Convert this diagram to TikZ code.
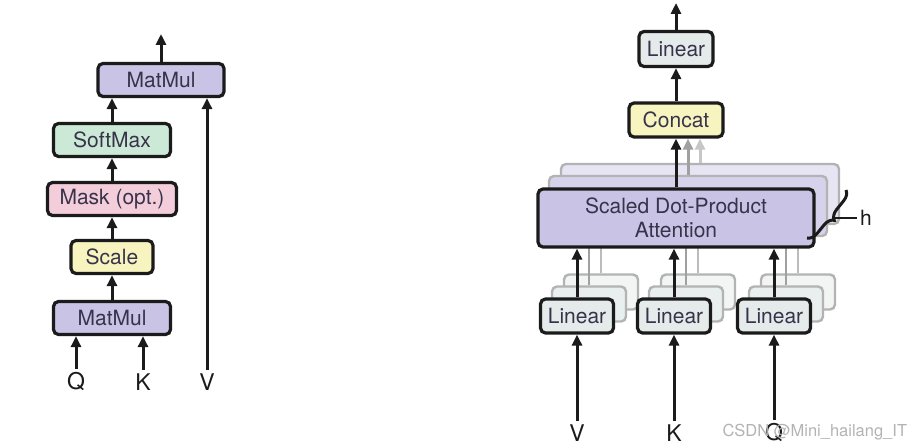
\documentclass[tikz,border=0pt]{standalone}
\usepackage{fontspec}
\setmainfont{TeX Gyre Heros}
\usepackage{tikz}
\usetikzlibrary{positioning,arrows.meta,decorations.pathreplacing}
\definecolor{cMat}{HTML}{C9C3E5}
\definecolor{cSoft}{HTML}{CBE9D6}
\definecolor{cMask}{HTML}{F4CDDB}
\definecolor{cScale}{HTML}{F8F4C0}
\definecolor{cLin}{HTML}{E4EBEA}
\definecolor{cInk}{HTML}{1B1B1B}
\definecolor{cText}{HTML}{37334A}
\definecolor{cGrey}{HTML}{A0A0A0}
\tikzset{
  blk/.style={draw=cInk, line width=3.2pt, rounded corners=5pt, align=center,
              inner sep=0pt, minimum height=33pt, text=cText,
              font=\fontsize{21}{24}\selectfont},
  blkM/.style={blk, fill=cMat},
  blkS/.style={blk, fill=cSoft},
  blkK/.style={blk, fill=cMask},
  blkC/.style={blk, fill=cScale},
  blkL/.style={blk, fill=cLin},
  ghost/.style={blk, draw=cGrey!80, line width=2.4pt, fill=#1},
  ar/.style={-{Triangle[length=11pt,width=10pt]}, cInk, line width=3pt},
  arg/.style={ar, cGrey},
  lbl/.style={font=\fontsize{23}{26}\selectfont, text=cInk}
}
\begin{document}
\begin{tikzpicture}[x=1pt, y=-1pt]
\useasboundingbox (0,0) rectangle (912,446);
% --- scaled dot-product attention
\node[blkM, minimum width=126pt] (mmB) at (161,80) {MatMul};
\node[blkS, minimum width=117pt] (soft) at (112,140) {SoftMax};
\node[blkK, minimum width=129pt] (mask) at (112,199) {Mask (opt.)};
\node[blkC, minimum width=82pt] (scale) at (112,257) {Scale};
\node[blkM, minimum width=117pt] (mmA) at (112,318) {MatMul};
\node[lbl] (q) at (76,382) {Q};
\node[lbl] (k) at (143,382) {K};
\node[lbl] (v) at (207,382) {V};
\coordinate (outL) at (161,34);
\foreach \a/\b in {mmA/scale,scale/mask,mask/soft}
  \draw[ar] (\a.north) -- (\b.south);
\draw[ar] (soft.north) -- (soft.north |- mmB.south);
\foreach \n in {q,k}
  \draw[ar] (\n.north) -- (\n.north |- mmA.south);
\draw[ar] (v.north) -- (v.north |- mmB.south);
\draw[ar] (mmB.north) -- (outL);

% --- multi-head attention, stacked heads behind
\node[ghost=cMat!45, minimum width=278pt, minimum height=60pt] (sdC) at (700,194) {};
\node[ghost=cMat!75, minimum width=278pt, minimum height=60pt] (sdB) at (688,206) {};
\foreach \x/\n in {577/v,674/k,774/q}{
  \node[ghost=cLin!50, minimum width=74pt, minimum height=35pt] (l\n C) at (\x+24,292) {};
  \node[ghost=cLin!80, minimum width=74pt, minimum height=35pt] (l\n B) at (\x+12,304) {};
  \draw[cGrey!70, line width=2.4pt] (l\n C.north) -- (l\n C.north |- sdC.south);
  \draw[cGrey, line width=2.4pt] (l\n B.north) -- (l\n B.north |- sdB.south);
}
\node[blkL, minimum width=74pt, minimum height=35pt] (lo) at (676,49) {Linear};
\node[blkC, minimum width=94pt, minimum height=34pt] (cat) at (676,120) {Concat};
\draw[arg, cGrey!60] (sdC.north) -- (sdC.north |- cat.south);
\draw[arg, cGrey] (sdB.north) -- (sdB.north |- cat.south);
\node[blkM, minimum width=276pt, minimum height=58pt] (sdpa) at (676,218)
  {Scaled Dot-Product\\Attention};
\draw[ar] (sdpa.north) -- (cat.south);
\draw[ar] (cat.north) -- (lo.south);
\coordinate (outR) at (676,3);
\draw[ar] (lo.north) -- (outR);
\foreach \x/\n/\t in {577/v/V,674/k/K,774/q/Q}{
  \node[blkL, minimum width=73pt, minimum height=34pt] (l\n) at (\x,316) {Linear};
  \node[lbl] (i\n) at (\x,433) {\t};
  \draw[ar] (i\n.north) -- (l\n.south);
  \draw[ar] (l\n.north) -- (l\n.north |- sdpa.south);
}
% heads brace
\coordinate (brT) at (846,190);
\coordinate (brB) at (807,238);
\node[lbl, font=\fontsize{21}{24}\selectfont] (h) at (866,218) {h};
\draw[cInk, line width=3pt, decorate, decoration={brace, amplitude=10pt}] (brT) -- (brB);
\draw[cInk, line width=2.4pt] (834,218) -- (h.west);
\node[font=\fontsize{16.5}{19}\selectfont, text=cGrey!80, anchor=west] (wm) at (719,432)
  {CSDN @Mini\_hailang\_IT};
\end{tikzpicture}
\end{document}
